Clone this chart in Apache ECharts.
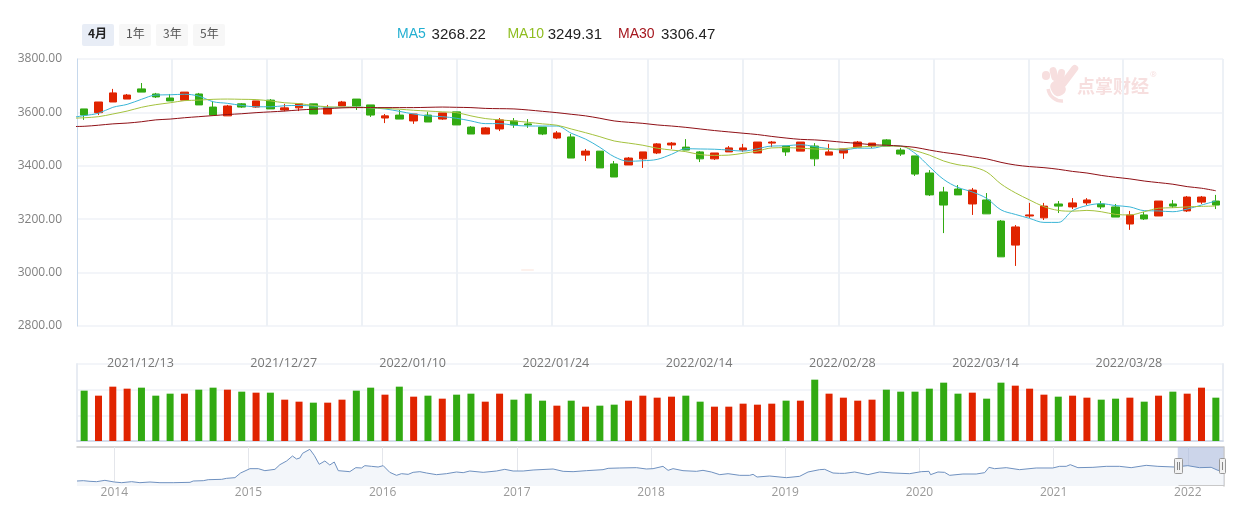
<!DOCTYPE html>
<html>
<head>
<meta charset="utf-8">
<style>html,body{margin:0;padding:0;background:#fff}#c{width:1245px;height:505px}</style>
<script src="https://cdn.jsdelivr.net/npm/echarts@6/dist/echarts.min.js"></script>
</head>
<body>
<div id="c"></div>
<script>
var dates = ['2021/12/07','2021/12/08','2021/12/09','2021/12/10','2021/12/13','2021/12/14','2021/12/15','2021/12/16','2021/12/17','2021/12/20','2021/12/21','2021/12/22','2021/12/23','2021/12/24','2021/12/27','2021/12/28','2021/12/29','2021/12/30','2021/12/31','2022/01/04','2022/01/05','2022/01/06','2022/01/07','2022/01/10','2022/01/11','2022/01/12','2022/01/13','2022/01/14','2022/01/17','2022/01/18','2022/01/19','2022/01/20','2022/01/21','2022/01/24','2022/01/25','2022/01/26','2022/01/27','2022/01/28','2022/02/07','2022/02/08','2022/02/09','2022/02/10','2022/02/11','2022/02/14','2022/02/15','2022/02/16','2022/02/17','2022/02/18','2022/02/21','2022/02/22','2022/02/23','2022/02/24','2022/02/25','2022/02/28','2022/03/01','2022/03/02','2022/03/03','2022/03/04','2022/03/07','2022/03/08','2022/03/09','2022/03/10','2022/03/11','2022/03/14','2022/03/15','2022/03/16','2022/03/17','2022/03/18','2022/03/21','2022/03/22','2022/03/23','2022/03/24','2022/03/25','2022/03/28','2022/03/29','2022/03/30','2022/03/31','2022/04/01','2022/04/06','2022/04/07'];
var labeledDates = ['2021/12/13','2021/12/27','2022/01/10','2022/01/24','2022/02/14','2022/02/28','2022/03/14','2022/03/28'];
var priceTicks = [2800, 3000, 3200, 3400, 3600, 3800];

// open, close, low, high
var ohlc = [
[3613,3590,3572,3613],[3599,3639,3590,3639],[3639,3673,3639,3688],[3650,3665,3650,3669],[3688,3676,3676,3710],
[3669,3658,3654,3673],[3654,3643,3643,3669],[3646,3676,3646,3676],[3669,3628,3628,3673],[3620,3590,3590,3643],
[3587,3624,3587,3628],[3632,3620,3617,3635],[3620,3643,3617,3643],[3646,3613,3613,3650],[3609,3617,3604,3632],
[3617,3632,3605,3632],[3632,3594,3594,3632],[3594,3617,3594,3628],[3624,3639,3624,3643],[3650,3624,3609,3650],
[3628,3590,3583,3628],[3579,3587,3560,3594],[3590,3575,3575,3609],[3568,3594,3557,3594],
[3590,3564,3564,3602],[3575,3598,3572,3598],[3602,3553,3553,3602],[3545,3519,3519,3549],[3519,3542,3519,3545],
[3538,3572,3530,3579],[3568,3553,3542,3579],[3557,3553,3542,3575],[3545,3519,3515,3545],[3504,3523,3500,3530],
[3508,3429,3429,3519],[3440,3455,3418,3463],[3455,3392,3392,3455],[3407,3358,3358,3418],[3403,3429,3403,3433],
[3426,3452,3392,3452],[3448,3482,3444,3485],[3478,3485,3463,3489],[3470,3459,3459,3500],[3452,3426,3414,3455],
[3426,3448,3422,3448],[3452,3467,3452,3474],[3459,3467,3452,3482],[3448,3489,3448,3489],[3485,3489,3470,3493],
[3474,3452,3437,3474],[3455,3489,3455,3489],[3474,3426,3399,3485],[3440,3452,3440,3482],
[3448,3463,3426,3463],[3470,3489,3470,3493],[3474,3485,3467,3485],[3497,3474,3474,3500],[3459,3444,3437,3467],
[3437,3369,3362,3437],[3373,3291,3287,3384],[3302,3253,3148,3321],[3313,3291,3291,3328],[3257,3309,3216,3317],
[3272,3220,3220,3298],[3193,3059,3059,3197],[3103,3171,3025,3178],[3212,3216,3205,3261],[3205,3249,3197,3261],
[3257,3249,3223,3268],[3246,3261,3238,3279],[3261,3272,3253,3279],[3257,3246,3238,3268],[3246,3208,3208,3257],
[3182,3216,3160,3231],[3216,3201,3197,3227],[3212,3268,3212,3268],[3257,3249,3242,3272],[3231,3283,3227,3287],
[3264,3283,3257,3287],[3268,3253,3238,3291]
];

var volumes = [151,136,163,157,160,136,142,142,154,160,154,148,145,145,124,118,115,115,124,151,160,139,163,133,
136,127,139,142,118,142,124,142,121,106,121,103,106,109,121,136,130,133,136,118,103,103,112,109,112,121,121,184,142,
130,121,124,154,148,148,157,175,142,145,127,175,166,157,139,133,136,130,124,127,130,118,136,148,142,160,130];

// The moving averages start one session before the visible window (index -1).
var ma5 = [3580,3588,3597,3619,3630,3649,3665,3666,3668,3661,3640,3634,3626,3621,3621,3625,3626,3624,3619,3619,3620,3617,3613,3604,
3594,3587,3584,3578,3568,3558,3558,3552,3549,3549,3549,3522,3500,3469,3434,3417,3419,3424,3443,3464,3463,3462,3459,3455,3464,3474,3475,3479,3472,3464,
3459,3466,3466,3475,3474,3447,3397,3349,3319,3302,3278,3235,3218,3203,3188,3188,3232,3251,3258,3251,3246,3232,3231,3228,3238,3253,3268.22];
var ma10 = [3578,3580,3584,3594,3605,3619,3629,3636,3644,3646,3649,3650,3649,3648,3643,3636,3633,3626,3621,3620,3620,3617,3615,3612,
3608,3605,3602,3599,3587,3577,3572,3568,3563,3557,3552,3538,3524,3509,3493,3485,3477,3466,3459,3453,3442,3439,3440,3447,3455,3467,3468,3466,3463,3462,
3464,3470,3473,3474,3473,3457,3440,3418,3404,3396,3377,3332,3299,3272,3247,3233,3230,3233,3228,3218,3216,3228,3241,3243,3246,3248,3249.31];
var ma30 = [3547,3548,3552,3557,3560,3565,3572,3575,3580,3584,3588,3592,3595,3599,3602,3605,3609,3612,3614,3617,3618,3618,3618,3618,
3618,3619,3620,3619,3618,3615,3614,3613,3609,3604,3599,3593,3587,3578,3568,3563,3559,3553,3549,3544,3538,3532,3527,3522,3517,3510,3504,3499,3497,3493,
3488,3484,3479,3477,3474,3469,3459,3450,3443,3434,3426,3413,3403,3397,3393,3387,3379,3373,3364,3357,3351,3343,3337,3331,3322,3316,3306.47];

// Session positions (in bands from the first candle) of the vertical rules of the price panel.
var verticalRules = [6.11,12.74,19.39,26.02,32.65,39.35,45.97,52.65,59.30,65.93,72.47,79.47];

var overviewYears = [2013.722,2013.769,2013.819,2013.868,2013.930,2014.000,2014.055,2014.129,2014.191,2014.266,2014.340,2014.439,2014.564,2014.588,2014.663,2014.700,2014.800,2014.837,2014.899,2014.941,
2015.011,2015.073,2015.122,2015.197,2015.234,2015.284,2015.328,2015.358,2015.383,2015.403,2015.457,2015.490,2015.527,2015.569,2015.606,2015.639,2015.669,2015.755,2015.800,2015.842,2015.867,2015.917,2015.966,
2016.004,2016.053,2016.103,2016.140,2016.190,2016.227,2016.277,2016.327,2016.401,2016.475,2016.550,2016.600,2016.649,2016.749,2016.848,2016.910,2016.972,
2017.047,2017.121,2017.270,2017.345,2017.419,2017.518,2017.642,2017.680,2017.767,2017.891,2017.965,
2018.015,2018.089,2018.127,2018.164,2018.238,2018.338,2018.387,2018.449,2018.512,2018.574,2018.661,2018.735,2018.760,2018.790,2018.884,
2019.008,2019.107,2019.170,2019.256,2019.294,2019.356,2019.405,2019.443,2019.517,2019.616,2019.703,2019.803,2019.927,
2020.014,2020.071,2020.083,2020.138,2020.187,2020.225,2020.324,2020.423,2020.486,2020.518,2020.560,2020.647,2020.746,2020.870,2020.994,
2021.044,2021.094,2021.124,2021.181,2021.293,2021.392,2021.491,2021.578,2021.690,2021.777,2021.901,
2022.000,2022.087,2022.174,2022.224,2022.266];
var overviewValues = [2147,2179,2116,2084,2211,2052,1988,2084,1988,2052,1988,1988,2020,2147,2179,2275,2307,2403,2467,2913,
3328,3328,3136,3264,3711,4062,4540,4253,4349,4795,5178,4604,3742,4062,3679,3966,3136,3041,3423,3392,3615,3551,3487,
3615,2977,2690,2849,2786,2977,3041,2913,2754,2849,3009,2945,3104,2977,3104,3264,3104,
3104,3200,3296,3073,3041,3136,3232,3360,3392,3423,3296,
3328,3551,3168,3328,3136,3073,3168,3009,2754,2849,2690,2690,2786,2530,2626,
2467,2594,3009,3232,3264,2913,2881,2881,3009,2754,3009,2913,2849,
3041,3073,2754,3009,2977,2690,2817,2817,2945,3455,3328,3423,3232,3392,3392,
3551,3551,3711,3423,3455,3551,3551,3423,3647,3551,3487,
3615,3423,3455,3168,3136];
var overviewYearTicks = [2014,2015,2016,2017,2018,2019,2020,2021,2022];
var selectedRange = [2021.925, 2022.266];

var rangeButtons = ['4月','1年','3年','5年'];
var legendValues = {MA5:'3268.22', MA10:'3249.31', MA30:'3306.47'};

var RED = '#e02400', GREEN = '#32aa12';
var chart = echarts.init(document.getElementById('c'), null, {renderer:'canvas'});
var FONT = '"Open Sans", sans-serif';

function maSeries(name, color, values) {
  return {
    name: name, type: 'line', xAxisIndex: 1, yAxisIndex: 0, z: 4, smooth: 0.35, showSymbol: false, silent: true,
    lineStyle: {color: color, width: 1}, itemStyle: {color: color},
    data: values.map(function (v, i) { return [i - 1, v]; })
  };
}

var buttons = [];
rangeButtons.forEach(function (t, i) {
  buttons.push({type:'rect', left: 82 + 37 * i, top: 24, shape:{width: 32, height: 22, r: 2},
    style:{fill: i === 0 ? '#e8edf6' : '#f7f7f7'}});
  buttons.push({type:'text', left: 82 + 37 * i + (i ? 7 : 6), top: 27,
    style:{text: t, fill: i === 0 ? '#222' : '#555', font: (i === 0 ? 'bold ' : '') + '12px "Noto Sans CJK SC"'}});
});

var paw = '#f7dfdf';
var logo = [
  {type:'rect', left:1042, top:71, shape:{width:8, height:9, r:4}, style:{fill:paw}},
  {type:'rect', x:1054, y:74, rotation:0.25, shape:{x:-3.5,y:-7,width:7,height:14,r:3.5}, style:{fill:paw}},
  {type:'rect', x:1061, y:76, rotation:-0.15, shape:{x:-3.5,y:-7,width:7,height:14,r:3.5}, style:{fill:paw}},
  {type:'rect', x:1069, y:76, rotation:-0.65, shape:{x:-3.5,y:-13,width:7,height:26,r:3.5}, style:{fill:paw}},
  {type:'rect', x:1058, y:88, rotation:0.5, shape:{x:-7,y:-8,width:14,height:16,r:6}, style:{fill:paw}},
  {type:'arc', shape:{cx:1062, cy:87, r:14, startAngle:1.5, endAngle:3.0}, style:{stroke:paw, fill:null, lineWidth:3.5}},
  {type:'text', left:1077, top:77, style:{text:'点掌财经', fill:paw, font:'bold 18px "Noto Sans CJK SC"'}},
  {type:'text', left:1150, top:71, style:{text:'®', fill:paw, font:'8px "Open Sans"'}},
  {type:'rect', left:521, top:269, shape:{width:13, height:2, r:1}, style:{fill:'#fdf1ec'}}
];

var handles = [
  {type:'line', z:20, shape:{x1:1178.5, y1:485.5, x2:1224, y2:485.5}, style:{stroke:'#c8c8c8', lineWidth:1}},
  {type:'rect', z:21, shape:{x:1174.5, y:458.5, width:8, height:15, r:1}, style:{fill:'#f2f2f2', stroke:'#999', lineWidth:1}},
  {type:'line', z:22, shape:{x1:1177.5, y1:462, x2:1177.5, y2:470}, style:{stroke:'#888', lineWidth:1}},
  {type:'line', z:22, shape:{x1:1179.5, y1:462, x2:1179.5, y2:470}, style:{stroke:'#888', lineWidth:1}},
  {type:'rect', z:21, shape:{x:1219.5, y:458.5, width:6, height:15, r:1}, style:{fill:'#f2f2f2', stroke:'#999', lineWidth:1}},
  {type:'line', z:22, shape:{x1:1222.5, y1:462, x2:1222.5, y2:470}, style:{stroke:'#888', lineWidth:1}}
];

var option = {
  animation: false,
  backgroundColor: '#fff',
  textStyle: {fontFamily: FONT},
  legend: {
    left: 392, top: 27, icon: 'none', itemWidth: 0, itemHeight: 0, itemGap: 11, selectedMode: false, padding: 0,
    data: ['MA5','MA10','MA30'],
    formatter: function (n) {
      return '{' + n + '|' + n + '}{v' + n + '|' + legendValues[n] + '}' + (n === 'MA5' ? '{s|  }' : '');
    },
    textStyle: {
      rich: {
        MA5:  {fontFamily:'"Liberation Sans"', fontSize:14, color:'#22afd1', width:34.6},
        MA10: {fontFamily:'"Liberation Sans"', fontSize:14, color:'#8fbd20', width:40.4},
        MA30: {fontFamily:'"Liberation Sans"', fontSize:14, color:'#a5161e', width:43},
        vMA5:  {fontFamily:'"Liberation Sans"', fontSize:15, color:'#222'},
        vMA10: {fontFamily:'"Liberation Sans"', fontSize:15, color:'#222'},
        vMA30: {fontFamily:'"Liberation Sans"', fontSize:15, color:'#222'},
        s: {fontFamily:'"Liberation Sans"', fontSize:10, color:'#fff', width:5}
      }
    }
  },
  grid: [
    {left: 77, top: 59, width: 1146, height: 267},
    {left: 77, top: 364, width: 1146, height: 77},
    {left: 77, top: 447, width: 1146.5, height: 39}
  ],
  xAxis: [
    {type:'category', gridIndex:0, data:dates, boundaryGap:true,
     axisLine:{show:false}, axisTick:{show:false}, splitLine:{show:false},
     axisLabel:{margin:31, color:'#777', fontSize:12.6, fontFamily:FONT, padding:[0,2,0,0],
       interval:function (i, v) { return labeledDates.indexOf(v) >= 0; }, hideOverlap:false}},
    {type:'value', gridIndex:0, min:-0.5, max:79.5, show:false, splitLine:{show:false}},
    {type:'category', gridIndex:1, data:dates, boundaryGap:true,
     axisLine:{lineStyle:{color:'#ccd5e6', width:1.5}}, axisTick:{show:false}, axisLabel:{show:false}, splitLine:{show:false}},
    {type:'value', gridIndex:2, min:2013.722, max:2022.266, position:'bottom', scale:true,
     axisLine:{show:false},
     axisTick:{show:true, inside:true, length:39, customValues:overviewYearTicks, lineStyle:{color:'#e4e6eb', width:1}},
     axisLabel:{show:true, customValues:overviewYearTicks, margin:1, color:'#999', fontSize:12, fontFamily:FONT,
       formatter:function (v) { return String(v); }},
     splitLine:{show:false}},
    {type:'value', gridIndex:2, min:2013.722, max:2022.266, position:'top', scale:true,
     axisLine:{show:true, onZero:false, lineStyle:{color:'#c8c8c8', width:1.5}}, axisTick:{show:false}, axisLabel:{show:false}, splitLine:{show:false}}
  ],
  yAxis: [
    {type:'value', gridIndex:0, min:2800, max:3800, interval:200,
     axisLine:{show:true, onZero:false, lineStyle:{color:'#c6d8ec', width:1}}, axisTick:{show:false},
     axisLabel:{margin:15, color:'#808080', fontSize:12, fontFamily:FONT, formatter:function (v) { return v.toFixed(2); }},
     splitLine:{show:true, lineStyle:{color:'#f3f5f9', width:2}}},
    {type:'value', gridIndex:1, min:0, max:231, interval:77,
     axisLine:{show:true, onZero:false, lineStyle:{color:'#e8ecf3', width:2}}, axisTick:{show:false}, axisLabel:{show:false},
     splitLine:{show:true, lineStyle:{color:'#f3f5f9', width:2}}},
    {type:'value', gridIndex:2, min:1670, max:5400, position:'right',
     axisLine:{show:true, onZero:false, lineStyle:{color:'#c8c8c8', width:1.5}}, axisTick:{show:false}, axisLabel:{show:false}, splitLine:{show:false}},
    {type:'value', gridIndex:1, min:0, max:231, interval:77, position:'right',
     axisLine:{show:true, onZero:false, lineStyle:{color:'#e8ecf3', width:2}}, axisTick:{show:false}, axisLabel:{show:false}, splitLine:{show:false}}
  ],
  series: [
    {type:'line', name:'rules', xAxisIndex:1, yAxisIndex:0, z:1, silent:true, showSymbol:false,
     data:[], markLine:{z:1, silent:true, symbol:'none', label:{show:false}, animation:false,
       lineStyle:{color:'#edf1f6', width:2, type:'solid'},
       data:verticalRules.map(function (x) { return {xAxis:x}; })}},
    {type:'candlestick', name:'K', xAxisIndex:0, yAxisIndex:0, z:3, barWidth:8, silent:true,
     itemStyle:{color:RED, color0:GREEN, borderColor:RED, borderColor0:GREEN, borderWidth:1},
     data:ohlc},
    maSeries('MA5', '#3ab5d6', ma5),
    maSeries('MA10', '#a4c23e', ma10),
    maSeries('MA30', '#8f1016', ma30),
    {type:'bar', name:'VOL', xAxisIndex:2, yAxisIndex:1, barWidth:7, silent:true,
     data:volumes.map(function (v, i) {
       return {value:v, itemStyle:{color: ohlc[i][1] >= ohlc[i][0] ? RED : GREEN}};
     })},
    {type:'line', name:'overview', xAxisIndex:3, yAxisIndex:2, showSymbol:false, silent:true,
     lineStyle:{color:'#6f91c0', width:1}, areaStyle:{color:'#f3f6fa', opacity:1},
     data:overviewYears.map(function (y, i) { return [y, overviewValues[i]]; }),
     markArea:{silent:true, itemStyle:{color:'rgba(170,185,220,0.6)'},
       data:[[{xAxis:selectedRange[0]},{xAxis:selectedRange[1]}]]}}
  ],
  graphic: {elements: buttons.concat(logo, handles)}
};
chart.setOption(option);
</script>
</body>
</html>
